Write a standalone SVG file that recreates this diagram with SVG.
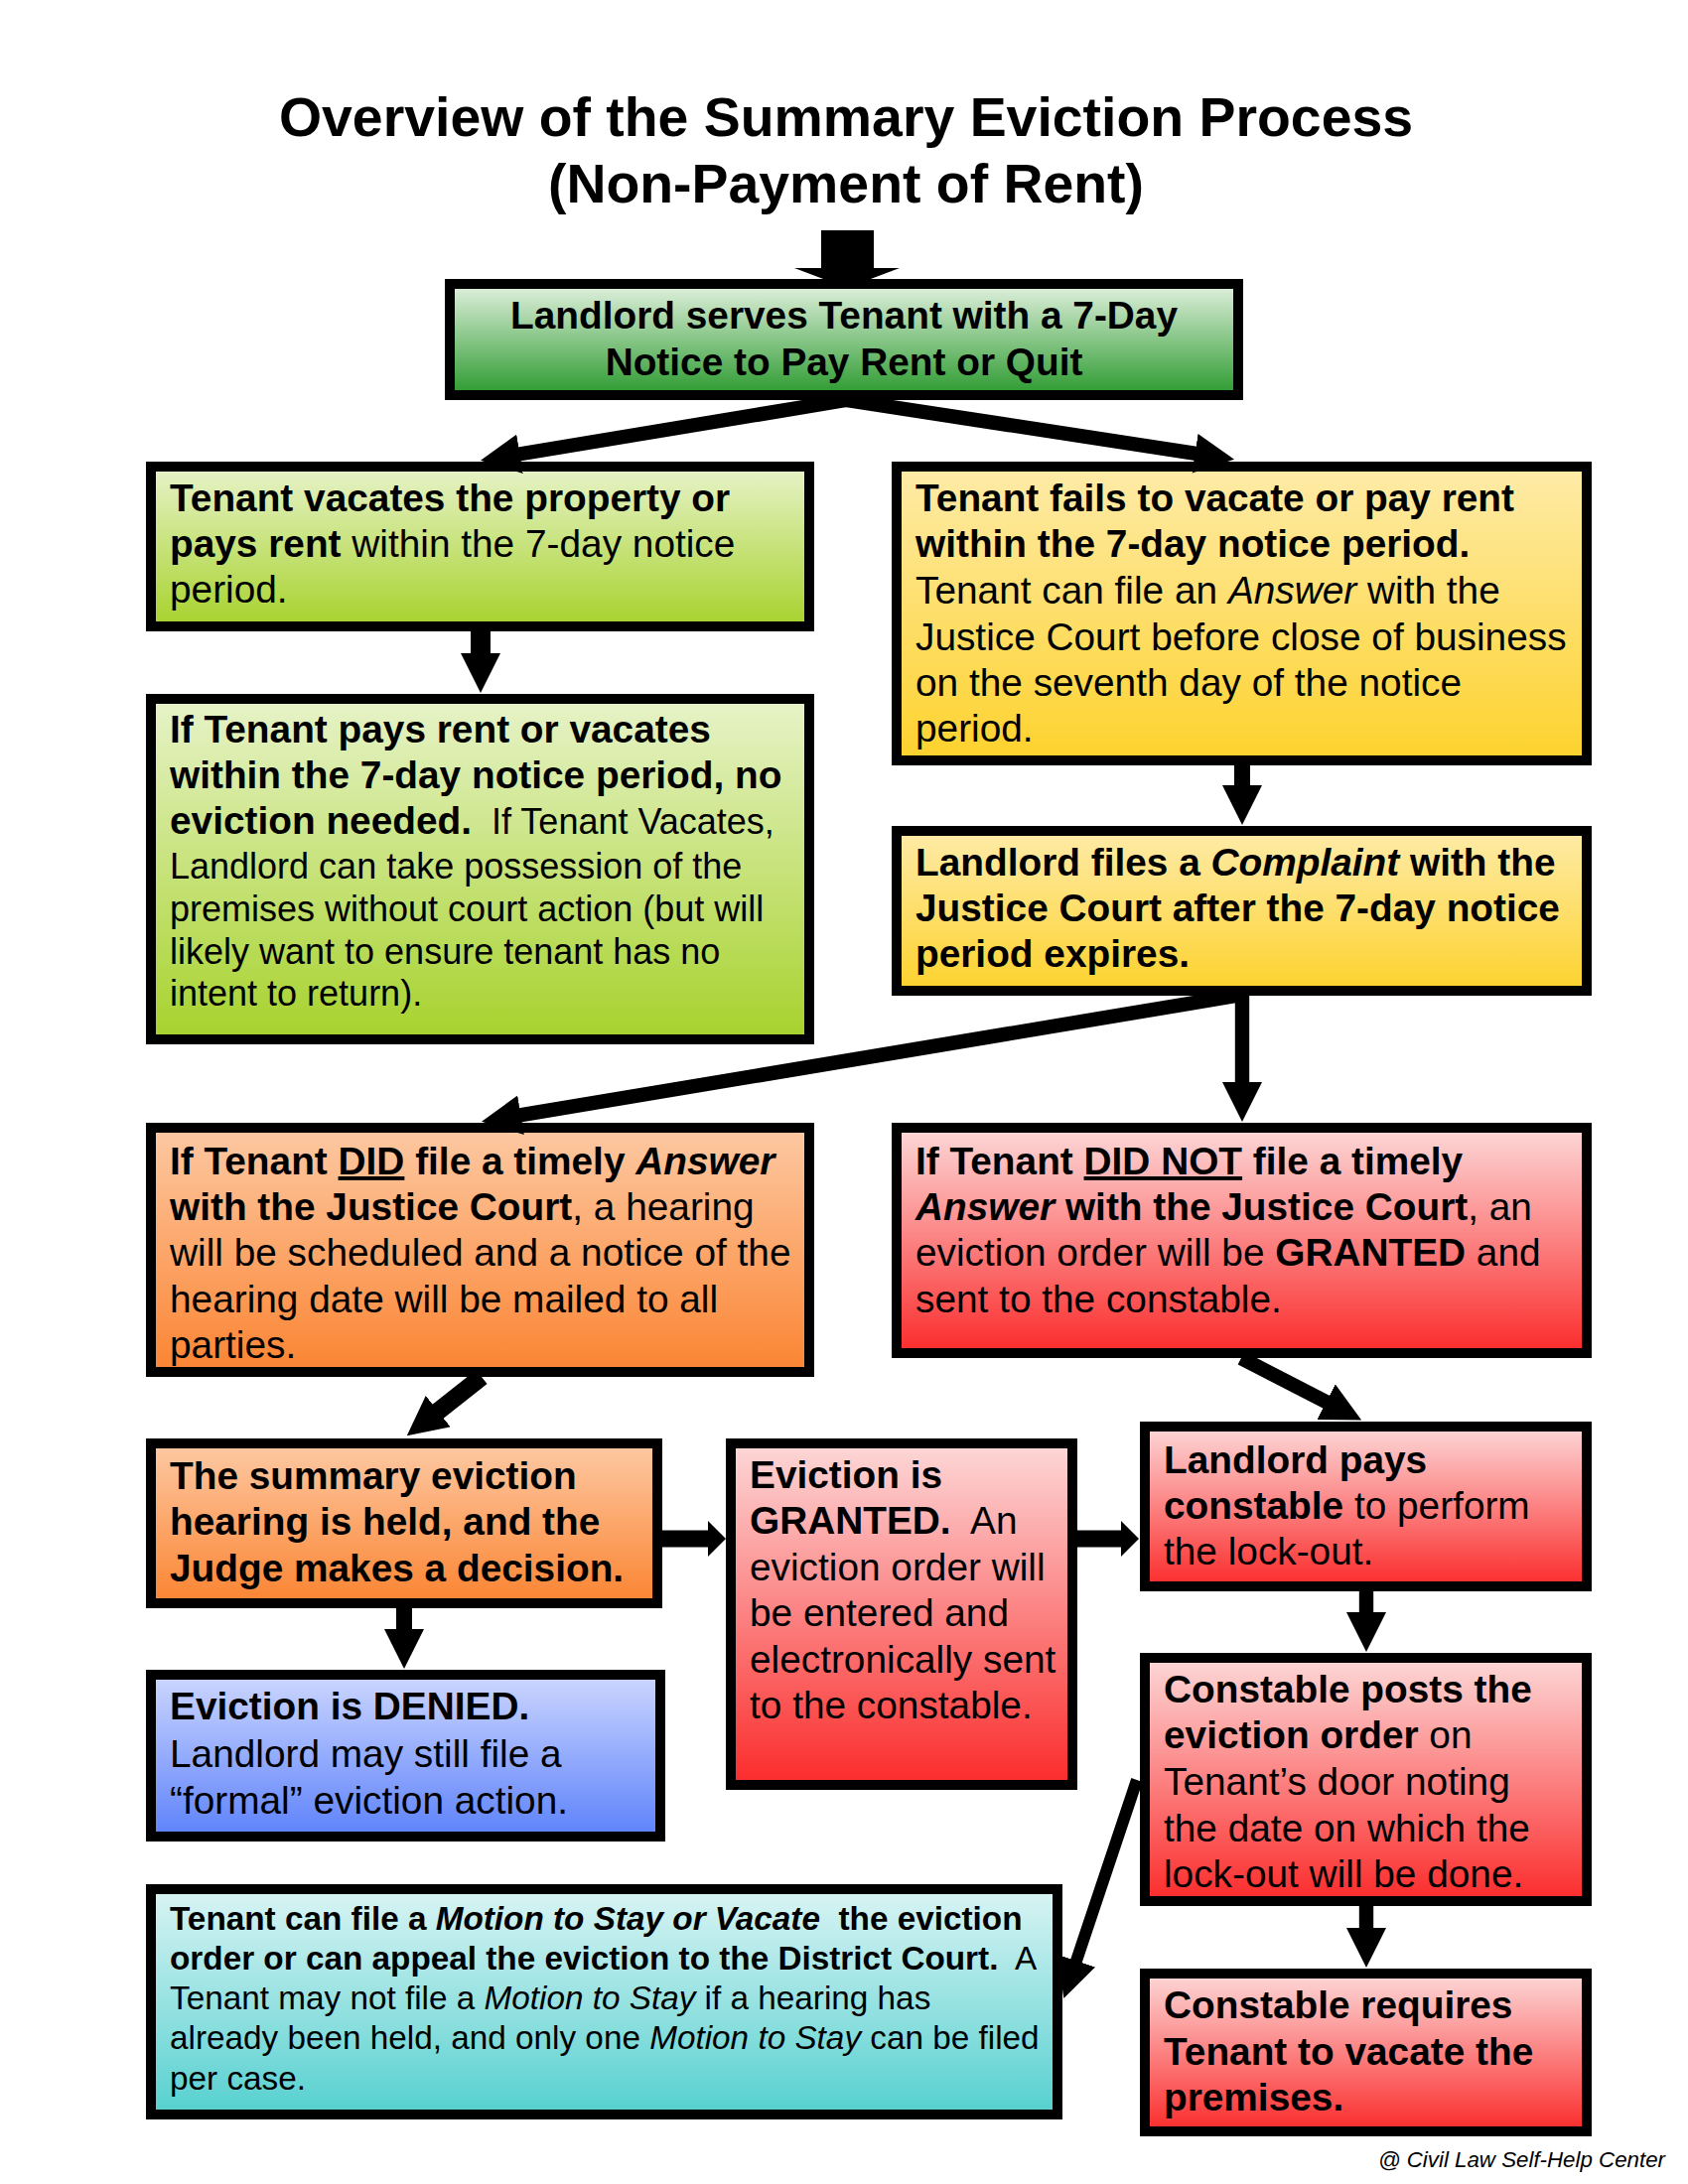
<svg xmlns="http://www.w3.org/2000/svg" width="1700" height="2200" viewBox="0 0 1700 2200">
<style>
text{font-family:"Liberation Sans",Arial,Helvetica,sans-serif;font-size:38.8px;fill:#000}
.b{font-weight:bold}
.i{font-style:italic}
.u{text-decoration:underline}
.s36{font-size:36px}
.s33{font-size:33.3px}
.title{font-size:55.4px;font-weight:bold}
.foot{font-size:22.3px;font-style:italic}
.box{stroke:#000;stroke-width:10}
.c{stroke:#000;fill:none}
</style>
<defs>
<linearGradient id="gGreen" x1="0" y1="0" x2="0" y2="1"><stop offset="0" stop-color="#e2f1df"/><stop offset="1" stop-color="#2b9a2e"/></linearGradient>
<linearGradient id="gLime" x1="0" y1="0" x2="0" y2="1"><stop offset="0" stop-color="#e7f3c9"/><stop offset="1" stop-color="#a7d22c"/></linearGradient>
<linearGradient id="gYellow" x1="0" y1="0" x2="0" y2="1"><stop offset="0" stop-color="#feeba8"/><stop offset="1" stop-color="#fdd22d"/></linearGradient>
<linearGradient id="gOrange" x1="0" y1="0" x2="0" y2="1"><stop offset="0" stop-color="#fdc9a3"/><stop offset="1" stop-color="#fb8432"/></linearGradient>
<linearGradient id="gRed" x1="0" y1="0" x2="0" y2="1"><stop offset="0" stop-color="#fdd8d8"/><stop offset="1" stop-color="#fb2b2b"/></linearGradient>
<linearGradient id="gBlue" x1="0" y1="0" x2="0" y2="1"><stop offset="0" stop-color="#ccd6fe"/><stop offset="1" stop-color="#5d82fb"/></linearGradient>
<linearGradient id="gCyan" x1="0" y1="0" x2="0" y2="1"><stop offset="0" stop-color="#daf4f4"/><stop offset="1" stop-color="#55d0cf"/></linearGradient>
<marker id="ah" viewBox="0 0 40 40" markerWidth="40" markerHeight="40" refX="1" refY="20" orient="auto" markerUnits="userSpaceOnUse"><path d="M0,0 L40,20 L0,40 Z" fill="#000"/></marker>
<marker id="ahs" viewBox="0 0 18 36" markerWidth="18" markerHeight="36" refX="1" refY="18" orient="auto" markerUnits="userSpaceOnUse"><path d="M0,0 L18,18 L0,36 Z" fill="#000"/></marker>
</defs>

<g id="title">
<text class="title" x="852" y="137" text-anchor="middle">Overview of the Summary Eviction Process</text>
<text class="title" x="852" y="204" text-anchor="middle">(Non-Payment of Rent)</text>
</g>

<g id="n1">
<rect class="box" x="453" y="286" width="794" height="112" fill="url(#gGreen)"/>
<text class="b" x="850" y="331" text-anchor="middle">Landlord serves Tenant with a 7-Day</text>
<text class="b" x="850" y="378" text-anchor="middle">Notice to Pay Rent or Quit</text>
</g>

<g id="n2">
<rect class="box" x="152" y="470" width="663" height="161" fill="url(#gLime)"/>
<text class="b" x="171" y="515">Tenant vacates the property or</text>
<text x="171" y="561"><tspan class="b">pays rent</tspan> within the 7-day notice</text>
<text x="171" y="607">period.</text>
</g>

<g id="n3">
<rect class="box" x="903" y="470" width="695" height="296" fill="url(#gYellow)"/>
<text class="b" x="922" y="515">Tenant fails to vacate or pay rent</text>
<text class="b" x="922" y="561">within the 7-day notice period.</text>
<text x="922" y="608">Tenant can file an <tspan class="i">Answer</tspan> with the</text>
<text x="922" y="655">Justice Court before close of business</text>
<text x="922" y="701">on the seventh day of the notice</text>
<text x="922" y="747">period.</text>
</g>

<g id="n4">
<rect class="box" x="152" y="704" width="663" height="343" fill="url(#gLime)"/>
<text class="b" x="171" y="748">If Tenant pays rent or vacates</text>
<text class="b" x="171" y="794">within the 7-day notice period, no</text>
<text x="171" y="840"><tspan class="b">eviction needed.</tspan><tspan class="s36">&#160; If Tenant Vacates,</tspan></text>
<text class="s36" x="171" y="885">Landlord can take possession of the</text>
<text class="s36" x="171" y="928">premises without court action (but will</text>
<text class="s36" x="171" y="971">likely want to ensure tenant has no</text>
<text class="s36" x="171" y="1013">intent to return).</text>
</g>

<g id="n5">
<rect class="box" x="903" y="837" width="695" height="161" fill="url(#gYellow)"/>
<text class="b" x="922" y="882">Landlord files a <tspan class="i">Complaint</tspan> with the</text>
<text class="b" x="922" y="928">Justice Court after the 7-day notice</text>
<text class="b" x="922" y="974">period expires.</text>
</g>

<g id="n6">
<rect class="box" x="152" y="1136" width="663" height="246" fill="url(#gOrange)"/>
<text class="b" x="171" y="1183">If Tenant <tspan class="u">DID</tspan> file a timely <tspan class="i">Answer</tspan></text>
<text x="171" y="1229"><tspan class="b">with the Justice Court</tspan>, a hearing</text>
<text x="171" y="1275">will be scheduled and a notice of the</text>
<text x="171" y="1322">hearing date will be mailed to all</text>
<text x="171" y="1368">parties.</text>
</g>

<g id="n7">
<rect class="box" x="903" y="1136" width="695" height="227" fill="url(#gRed)"/>
<text class="b" x="922" y="1183">If Tenant <tspan class="u">DID NOT</tspan> file a timely</text>
<text x="922" y="1229"><tspan class="b i">Answer</tspan><tspan class="b"> with the Justice Court</tspan>, an</text>
<text x="922" y="1275">eviction order will be <tspan class="b">GRANTED</tspan> and</text>
<text x="922" y="1322">sent to the constable.</text>
</g>

<g id="n8">
<rect class="box" x="152" y="1454" width="510" height="161" fill="url(#gOrange)"/>
<text class="b" x="171" y="1500">The summary eviction</text>
<text class="b" x="171" y="1546">hearing is held, and the</text>
<text class="b" x="171" y="1593">Judge makes a decision.</text>
</g>

<g id="n9">
<rect class="box" x="736" y="1454" width="344" height="344" fill="url(#gRed)"/>
<text class="b" x="755" y="1499">Eviction is</text>
<text x="755" y="1545"><tspan class="b">GRANTED.</tspan>&#160; An</text>
<text x="755" y="1592">eviction order will</text>
<text x="755" y="1638">be entered and</text>
<text x="755" y="1685">electronically sent</text>
<text x="755" y="1731">to the constable.</text>
</g>

<g id="n10">
<rect class="box" x="1153" y="1437" width="445" height="161" fill="url(#gRed)"/>
<text class="b" x="1172" y="1484">Landlord pays</text>
<text x="1172" y="1530"><tspan class="b">constable</tspan> to perform</text>
<text x="1172" y="1576">the lock-out.</text>
</g>

<g id="n11">
<rect class="box" x="152" y="1687" width="513" height="163" fill="url(#gBlue)"/>
<text class="b" x="171" y="1732">Eviction is DENIED.</text>
<text x="171" y="1780">Landlord may still file a</text>
<text x="171" y="1827">“formal” eviction action.</text>
</g>

<g id="n12">
<rect class="box" x="1153" y="1670" width="445" height="245" fill="url(#gRed)"/>
<text class="b" x="1172" y="1715">Constable posts the</text>
<text x="1172" y="1761"><tspan class="b">eviction order</tspan> on</text>
<text x="1172" y="1808">Tenant’s door noting</text>
<text x="1172" y="1855">the date on which the</text>
<text x="1172" y="1901">lock-out will be done.</text>
</g>

<g id="n13">
<rect class="box" x="152" y="1903" width="913" height="227" fill="url(#gCyan)"/>
<text class="s33 b" x="171" y="1944">Tenant can file a <tspan class="i">Motion to Stay or Vacate</tspan>&#160; the eviction</text>
<text class="s33" x="171" y="1984"><tspan class="b">order or can appeal the eviction to the District Court.</tspan>&#160; A</text>
<text class="s33" x="171" y="2024">Tenant may not file a <tspan class="i">Motion to Stay</tspan> if a hearing has</text>
<text class="s33" x="171" y="2064">already been held, and only one <tspan class="i">Motion to Stay</tspan> can be filed</text>
<text class="s33" x="171" y="2105">per case.</text>
</g>

<g id="n14">
<rect class="box" x="1153" y="1988" width="445" height="159" fill="url(#gRed)"/>
<text class="b" x="1172" y="2033">Constable requires</text>
<text class="b" x="1172" y="2080">Tenant to vacate the</text>
<text class="b" x="1172" y="2126">premises.</text>
</g>

<g id="connectors">
<path d="M827,232 H880 V270 H906 L853,290 L800,270 H827 Z" fill="#000"/>
<line class="c" x1="852" y1="403" x2="522.5" y2="457.5" stroke-width="14.4" marker-end="url(#ah)"/>
<line class="c" x1="852" y1="403" x2="1204.5" y2="456.9" stroke-width="14.4" marker-end="url(#ah)"/>
<line class="c" x1="484" y1="632" x2="484" y2="659" stroke-width="20" marker-end="url(#ah)"/>
<line class="c" x1="1251" y1="768" x2="1251" y2="792" stroke-width="16" marker-end="url(#ah)"/>
<line class="c" x1="1245" y1="1003" x2="523.5" y2="1123.4" stroke-width="14.4" marker-end="url(#ah)"/>
<line class="c" x1="1251" y1="1001" x2="1251" y2="1091" stroke-width="14.4" marker-end="url(#ah)"/>
<line class="c" x1="485" y1="1387" x2="440.4" y2="1422.2" stroke-width="18" marker-end="url(#ah)"/>
<line class="c" x1="1250" y1="1368" x2="1336.5" y2="1412.6" stroke-width="14.4" marker-end="url(#ah)"/>
<line class="c" x1="665" y1="1550" x2="714" y2="1550" stroke-width="17" marker-end="url(#ahs)"/>
<line class="c" x1="1083" y1="1550" x2="1130" y2="1550" stroke-width="17" marker-end="url(#ahs)"/>
<line class="c" x1="407" y1="1617" x2="407" y2="1642" stroke-width="16" marker-end="url(#ah)"/>
<line class="c" x1="1376" y1="1600" x2="1376" y2="1625" stroke-width="14.4" marker-end="url(#ah)"/>
<line class="c" x1="1376" y1="1917" x2="1376" y2="1943" stroke-width="14.4" marker-end="url(#ah)"/>
<line class="c" x1="1145" y1="1793" x2="1083.7" y2="1976.1" stroke-width="12" marker-end="url(#ah)"/>
</g>

<text class="foot" x="1677" y="2183" text-anchor="end">@ Civil Law Self-Help Center</text>
</svg>
